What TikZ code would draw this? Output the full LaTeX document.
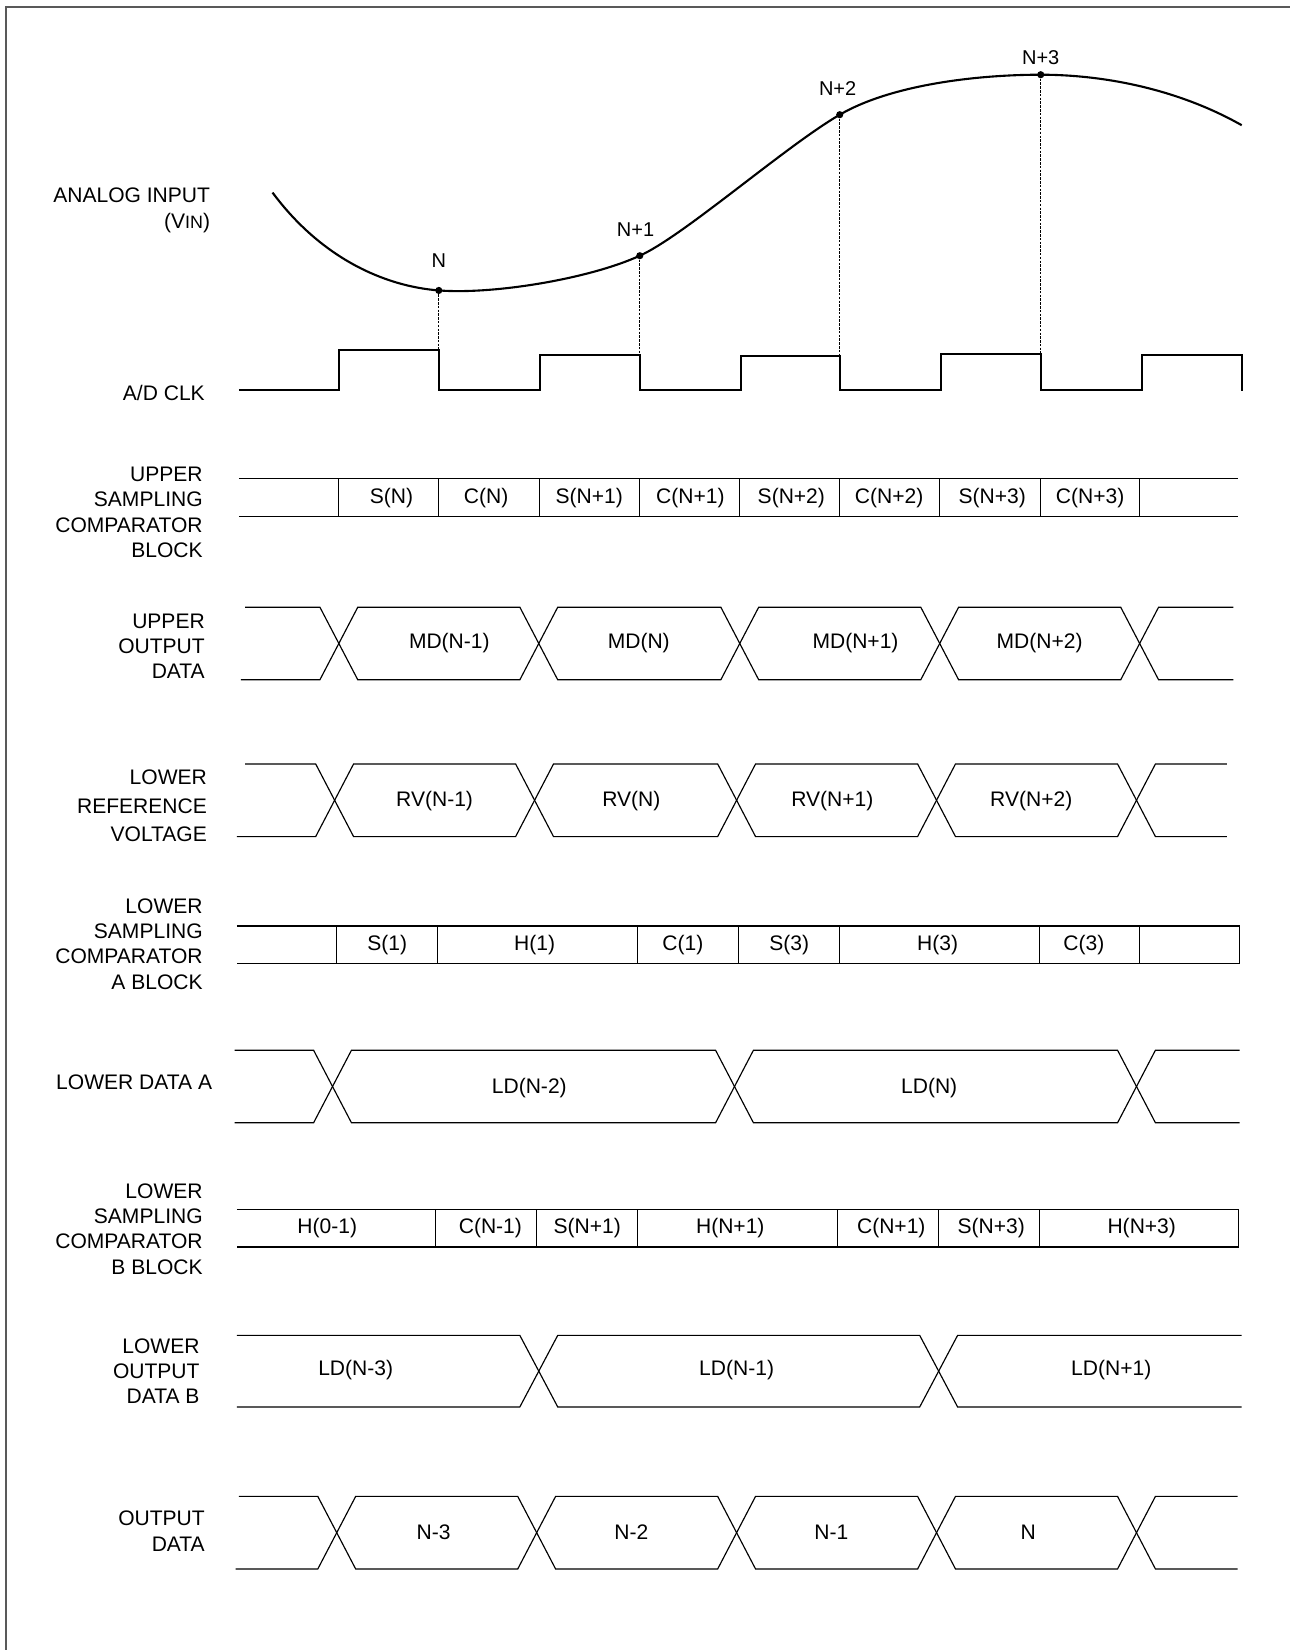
\documentclass[tikz,border=0pt]{standalone}
\usepackage{fontspec}
\setmainfont{Liberation Sans}
\begin{document}
\begin{tikzpicture}[x=0.5pt,y=-0.5pt,
    sig/.style={line width=1pt},
    bus/.style={line width=0.55pt},
    lbl/.style={anchor=east,align=right,inner sep=0pt,font=\fontsize{10}{12}\selectfont},
    val/.style={inner sep=0pt,font=\fontsize{10}{12}\selectfont},
    pt/.style={inner sep=0pt,font=\fontsize{9.5}{11}\selectfont},
    dot/.style={circle,fill,inner sep=0pt,minimum size=3.4pt},
    sampleline/.style={line width=0.6pt,dash pattern=on 1.2pt off 0.6pt}]
  \useasboundingbox (0,0) rectangle (1226,1568);
  % frame
  \draw[black!65,line width=1pt] (6,1568) -- (6,7) -- (1226,7);

  %% SIGNAL NAMES
  \node[lbl] (lin)  at (200,200) {ANALOG INPUT\\[0.5pt](V{\fontsize{8.5}{10}\selectfont IN})};
  \node[lbl] (lclk) at (195,373) {A/D CLK};
  \node[lbl] (lusc) at (193,487) {UPPER\\SAMPLING\\COMPARATOR\\BLOCK};
  \node[lbl] (luod) at (195,614) {UPPER\\OUTPUT\\DATA};
  \node[lbl] (lrv)  at (197,766) {LOWER\\[1.5pt]REFERENCE\\[1.5pt]VOLTAGE};
  \node[lbl] (lsca) at (193,897) {LOWER\\SAMPLING\\COMPARATOR\\A BLOCK};
  \node[lbl] (llda) at (202,1028) {LOWER DATA A};
  \node[lbl] (lscb) at (193,1168) {LOWER\\SAMPLING\\COMPARATOR\\B BLOCK};
  \node[lbl] (lodb) at (190,1303) {LOWER\\OUTPUT\\DATA B};
  \node[lbl] (lout) at (195,1455) {OUTPUT\\DATA};

  %% ANALOG INPUT
  \draw[sig] (259,183) .. controls (305,245) and (365,272) .. (417,276)
    .. controls (469,280) and (560,265) .. (608,243)
    .. controls (650,224) and (745,140) .. (798,109)
    .. controls (848,80) and (930,71) .. (989,71)
    .. controls (1050,71) and (1120,85) .. (1180,119);
  % samples
  \node[dot] (pN)  at (417,276) {};
  \node[dot] (pN1) at (608,243) {};
  \node[dot] (pN2) at (798,109) {};
  \node[dot] (pN3) at (989,71) {};
  \node[pt] at (417,248) {N};
  \node[pt] at (604,218) {N+1};
  \node[pt] at (796,84) {N+2};
  \node[pt] at (989,55) {N+3};

  %% A/D CLK
  \draw[sig] (227,371) -- (322,371) -- (322,333) -- (417,333) -- (417,371)
    -- (513,371) -- (513,337) -- (608,337) -- (608,371)
    -- (704,371) -- (704,338) -- (798,338) -- (798,371)
    -- (894,371) -- (894,336) -- (989,336) -- (989,371)
    -- (1085,371) -- (1085,337) -- (1180,337) -- (1180,372);
  \coordinate (cN)  at (417,333);
  \coordinate (cN1) at (608,337);
  \coordinate (cN2) at (798,338);
  \coordinate (cN3) at (989,336);
  \draw[sampleline] (pN) -- (cN);
  \draw[sampleline] (pN1) -- (cN1);
  \draw[sampleline] (pN2) -- (cN2);
  \draw[sampleline] (pN3) -- (cN3);

  %% UPPER SAMPLING COMPARATOR BLOCK
  \draw[bus] (227,455) -- (1176,455) (227,491) -- (1176,491);
  \foreach \x in {322,417,513,608,703,798,893,989,1083}
    \draw[bus] (\x,455) -- (\x,491);
  \node[val] (usS0) at (372,473) {S(N)};
  \node[val] (usC0) at (462,473) {C(N)};
  \node[val] (usS1) at (560,473) {S(N+1)};
  \node[val] (usC1) at (656,473) {C(N+1)};
  \node[val] (usS2) at (752,473) {S(N+2)};
  \node[val] (usC2) at (845,473) {C(N+2)};
  \node[val] (usS3) at (943,473) {S(N+3)};
  \node[val] (usC3) at (1036,473) {C(N+3)};

  %% UPPER OUTPUT DATA
  \draw[bus] (233,577) -- (304,577) -- (340,646) -- (494,646) -- (530,577) -- (685,577)
    -- (721,646) -- (875,646) -- (911,577) -- (1065,577) -- (1101,646) -- (1172,646);
  \draw[bus] (229,646) -- (304,646) -- (340,577) -- (494,577) -- (530,646) -- (685,646)
    -- (721,577) -- (875,577) -- (911,646) -- (1065,646) -- (1101,577) -- (1172,577);
  \node[val] (md0) at (427,611) {MD(N-1)};
  \node[val] (md1) at (607,611) {MD(N)};
  \node[val] (md2) at (813,611) {MD(N+1)};
  \node[val] (md3) at (988,611) {MD(N+2)};

  %% LOWER REFERENCE VOLTAGE
  \draw[bus] (233,726) -- (300,726) -- (336,795) -- (490,795) -- (526,726) -- (682,726)
    -- (718,795) -- (872,795) -- (908,726) -- (1062,726) -- (1098,795) -- (1166,795);
  \draw[bus] (225,795) -- (300,795) -- (336,726) -- (490,726) -- (526,795) -- (682,795)
    -- (718,726) -- (872,726) -- (908,795) -- (1062,795) -- (1098,726) -- (1166,726);
  \node[val] (rv0) at (413,761) {RV(N-1)};
  \node[val] (rv1) at (600,761) {RV(N)};
  \node[val] (rv2) at (791,761) {RV(N+1)};
  \node[val] (rv3) at (980,761) {RV(N+2)};

  %% LOWER SAMPLING COMPARATOR A BLOCK
  \draw[bus] (225,880) -- (1178,880) -- (1178,916) -- (225,916);
  \foreach \x in {320,416,606,702,798,988,1083}
    \draw[bus] (\x,880) -- (\x,916);
  \node[val] (saS1) at (368,898) {S(1)};
  \node[val] (saH1) at (508,898) {H(1)};
  \node[val] (saC1) at (649,898) {C(1)};
  \node[val] (saS3) at (750,898) {S(3)};
  \node[val] (saH3) at (891,898) {H(3)};
  \node[val] (saC3) at (1030,898) {C(3)};

  %% LOWER DATA A
  \draw[bus] (223,998) -- (298,998) -- (334,1067) -- (680,1067) -- (716,998)
    -- (1062,998) -- (1098,1067) -- (1178,1067);
  \draw[bus] (223,1067) -- (298,1067) -- (334,998) -- (680,998) -- (716,1067)
    -- (1062,1067) -- (1098,998) -- (1178,998);
  \node[val] (lda0) at (503,1034) {LD(N-2)};
  \node[val] (lda1) at (883,1034) {LD(N)};

  %% LOWER SAMPLING COMPARATOR B BLOCK
  \draw[bus] (225,1149) -- (1177,1149) -- (1177,1185) -- (225,1185);
  \foreach \x in {414,510,606,796,892,988}
    \draw[bus] (\x,1149) -- (\x,1185);
  \node[val] (sbH0) at (311,1167) {H(0-1)};
  \node[val] (sbC0) at (466,1167) {C(N-1)};
  \node[val] (sbS1) at (558,1167) {S(N+1)};
  \node[val] (sbH1) at (694,1167) {H(N+1)};
  \node[val] (sbC1) at (847,1167) {C(N+1)};
  \node[val] (sbS3) at (942,1167) {S(N+3)};
  \node[val] (sbH3) at (1085,1167) {H(N+3)};

  %% LOWER OUTPUT DATA B
  \draw[bus] (225,1269) -- (494,1269) -- (530,1337) -- (874,1337) -- (910,1269) -- (1180,1269);
  \draw[bus] (225,1337) -- (494,1337) -- (530,1269) -- (874,1269) -- (910,1337) -- (1180,1337);
  \node[val] (ldb0) at (338,1302) {LD(N-3)};
  \node[val] (ldb1) at (700,1302) {LD(N-1)};
  \node[val] (ldb2) at (1056,1302) {LD(N+1)};

  %% OUTPUT DATA
  \draw[bus] (227,1422) -- (302,1422) -- (338,1491) -- (492,1491) -- (528,1422) -- (682,1422)
    -- (718,1491) -- (872,1491) -- (908,1422) -- (1062,1422) -- (1098,1491) -- (1176,1491);
  \draw[bus] (224,1491) -- (302,1491) -- (338,1422) -- (492,1422) -- (528,1491) -- (682,1491)
    -- (718,1422) -- (872,1422) -- (908,1491) -- (1062,1491) -- (1098,1422) -- (1176,1422);
  \node[val] (od0) at (412,1456) {N-3};
  \node[val] (od1) at (600,1456) {N-2};
  \node[val] (od2) at (790,1456) {N-1};
  \node[val] (od3) at (977,1456) {N};
\end{tikzpicture}
\end{document}
